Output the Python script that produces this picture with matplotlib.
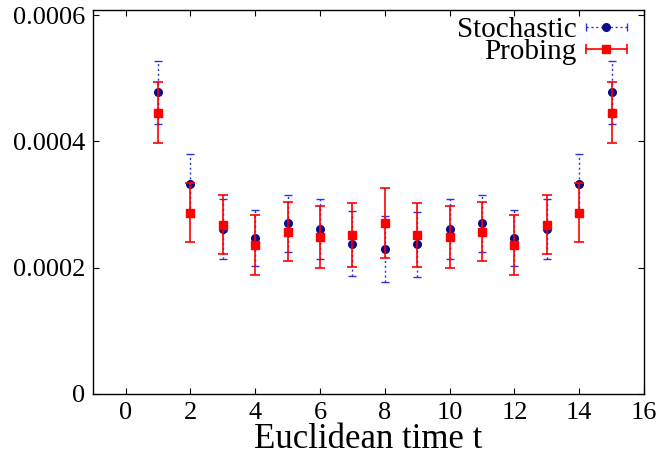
import matplotlib
matplotlib.use("Agg")
import matplotlib.pyplot as plt
from matplotlib.lines import Line2D
from matplotlib.legend_handler import HandlerLine2D, HandlerTuple

plt.rcParams['font.family'] = ['Liberation Serif', 'DejaVu Serif']

t = [1, 2, 3, 4, 5, 6, 7, 8, 9, 10, 11, 12, 13, 14, 15]
stoch = [4.78e-4, 3.33e-4, 2.61e-4, 2.47e-4, 2.70e-4, 2.61e-4, 2.38e-4, 2.30e-4,
         2.37e-4, 2.61e-4, 2.70e-4, 2.47e-4, 2.61e-4, 3.33e-4, 4.78e-4]
stoch_err = [0.50e-4, 0.47e-4, 0.47e-4, 0.44e-4, 0.45e-4, 0.48e-4, 0.51e-4, 0.52e-4,
             0.51e-4, 0.48e-4, 0.45e-4, 0.44e-4, 0.47e-4, 0.47e-4, 0.50e-4]
prob = [4.455e-4, 2.87e-4, 2.68e-4, 2.36e-4, 2.57e-4, 2.49e-4, 2.52e-4, 2.71e-4,
        2.52e-4, 2.49e-4, 2.57e-4, 2.36e-4, 2.68e-4, 2.87e-4, 4.455e-4]
prob_err = [0.48e-4, 0.47e-4, 0.47e-4, 0.47e-4, 0.47e-4, 0.49e-4, 0.51e-4, 0.55e-4,
            0.51e-4, 0.49e-4, 0.47e-4, 0.47e-4, 0.47e-4, 0.47e-4, 0.48e-4]

xticks = [0, 2, 4, 6, 8, 10, 12, 14, 16]
yticks = [0, 0.0002, 0.0004, 0.0006]
yticklabels = ['0', '0.0002', '0.0004', '0.0006']

blue_line = '#3030e0'
blue_mk = '#0a0a8a'
red = '#ff0000'

fig = plt.figure(figsize=(6.62, 4.57), dpi=100)
ax = fig.add_axes([93.3/662, 1-394/457, (644-93.3)/662, (394-10)/457])

eb1 = ax.errorbar(t, stoch, yerr=stoch_err, fmt='o', color=blue_mk, ms=5.5,
                  ecolor=blue_line, elinewidth=1.0, capsize=2.8, capthick=1.0, zorder=2)
for ln in eb1[2]:
    ln.set_linestyle((0, (1.5, 2)))
eb2 = ax.errorbar(t, prob, yerr=prob_err, fmt='s', color=red, ms=5.5,
                  ecolor=red, elinewidth=1.2, capsize=3.6, capthick=1.2, zorder=3)

ax.set_xlim(-1, 16)
ax.set_ylim(0, 6.08e-4)
ax.set_xticks(xticks)
ax.set_xticklabels([str(v) for v in xticks])
ax.set_yticks(yticks)
ax.set_yticklabels(yticklabels)
ax.tick_params(direction='in', top=True, right=True, length=4.5, width=0.8,
               labelsize=19, pad=6)
for s in ax.spines.values():
    s.set_linewidth(1.0)
ax.set_xlabel('Euclidean time t', fontsize=25, labelpad=-1)

# legend handles (gnuplot style: horizontal bar with caps)
s_line = Line2D([], [], color=blue_line, lw=1.0, ls=(0, (1.5, 2)), marker='|', ms=6, mew=1.0)
s_mk = Line2D([], [], color=blue_mk, ls='none', marker='o', ms=5.5)
p_line = Line2D([], [], color=red, lw=1.2, marker='|', ms=7, mew=1.2)
p_mk = Line2D([], [], color=red, ls='none', marker='s', ms=5.5)
hmap = {s_line: HandlerLine2D(numpoints=2, marker_pad=0),
        p_line: HandlerLine2D(numpoints=2, marker_pad=0),
        s_mk: HandlerLine2D(numpoints=1), p_mk: HandlerLine2D(numpoints=1),
        tuple: HandlerTuple(ndivide=1)}
leg = ax.legend([(s_line, s_mk), (p_line, p_mk)], ['Stochastic', 'Probing'],
                handler_map=hmap, loc='upper right', markerfirst=False, frameon=False,
                fontsize=21, handlelength=1.38, handletextpad=0.33, labelspacing=-0.14,
                borderaxespad=0.0, borderpad=0.22, bbox_to_anchor=(1 - 11/551, 1.0))

fig.savefig('out.png', dpi=100)
